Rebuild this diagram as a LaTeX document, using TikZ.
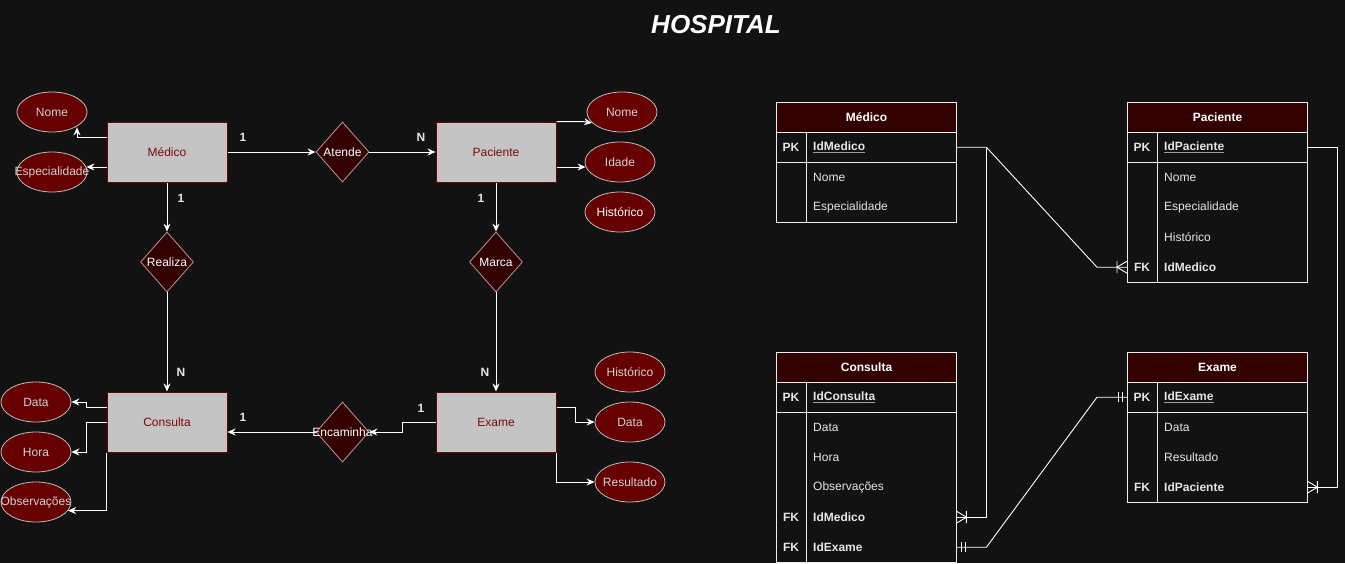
\documentclass[tikz,border=0pt]{standalone}
\usepackage{fontspec}
\setmainfont{Liberation Sans}
\usetikzlibrary{shapes.geometric,arrows.meta,calc}
\definecolor{bg}{HTML}{121212}
\definecolor{entf}{HTML}{C4C4C4}
\definecolor{entb}{HTML}{6F0000}
\definecolor{entt}{HTML}{7A0A0A}
\definecolor{attf}{HTML}{660000}
\definecolor{attb}{HTML}{BDBDBD}
\definecolor{attt}{HTML}{D2D2D2}
\definecolor{relf}{HTML}{330000}
\definecolor{relb}{HTML}{C49191}
\definecolor{hdr}{HTML}{330000}
\definecolor{tb}{HTML}{EEEEEE}
\definecolor{tt}{HTML}{E6E6E6}
\definecolor{ulc}{HTML}{A0A0A0}
\newcommand\ulg[1]{\textcolor{ulc}{\underline{\textcolor{tt}{#1}}}}
\newcommand\ermany[2]{\begin{scope}[shift={(#1)},rotate=#2]\draw[erl] (-10,-6)--(-10,6) (0,-6)--(-10,0)--(0,6);\end{scope}}
\newcommand\erone[2]{\begin{scope}[shift={(#1)},rotate=#2]\draw[erl] (-5,-5)--(-5,5) (-9,-5)--(-9,5);\end{scope}}
\begin{document}
\begin{tikzpicture}[x=1pt,y=-1pt,
  base/.style={font=\fontsize{12}{14}\selectfont},
  ent/.style={base,draw=entb,fill=entf,text=entt,minimum width=120pt,minimum height=60pt,inner sep=0pt,line width=1pt},
  attr/.style={base,ellipse,draw=attb,fill=attf,text=attt,minimum width=70pt,minimum height=40pt,inner sep=0pt,line width=0.8pt},
  rel/.style={base,diamond,draw=relb,fill=relf,text=white,minimum width=53pt,minimum height=60pt,inner sep=0pt,line width=0.8pt},
  card/.style={font=\fontsize{12}{14}\selectfont\bfseries,text=tt},
  arr/.style={draw=white,line width=1pt,-{Stealth[length=8pt,width=7pt]}},
  thead/.style={base,anchor=north west,draw=tb,fill=hdr,minimum width=180pt,minimum height=30pt,inner sep=0pt,text=white,font=\fontsize{12}{14}\selectfont\bfseries,line width=1pt},
  trow/.style={base,anchor=north west,minimum width=150pt,minimum height=30pt,text width=136pt,inner xsep=7pt,inner ysep=0pt,align=left,text=tt},
  trowb/.style={trow,font=\fontsize{12}{14}\selectfont\bfseries},
  tkey/.style={text=tt,font=\fontsize{12}{14}\selectfont\bfseries},
  tline/.style={draw=tb,line width=1pt},
  erl/.style={draw=white,line width=0.9pt}
]
\fill[bg] (0,0) rectangle (1345,563);
\useasboundingbox (0,0) rectangle (1345,563);

% title
\node[text=white,font=\fontsize{26}{30}\selectfont\bfseries\itshape] (title) at (716,25) {HOSPITAL};

% ===== ER diagram =====
\node[ent] (medico) at (167,152) {Médico};
\node[ent] (paciente) at (496,152) {Paciente};
\node[ent] (consulta) at (167,422) {Consulta};
\node[ent] (exame) at (496,422) {Exame};

\node[rel] (atende) at (342.5,152) {\makebox[0pt]{Atende}};
\node[rel] (realiza) at (167,262) {\makebox[0pt]{Realiza}};
\node[rel] (marca) at (496,262) {\makebox[0pt]{Marca}};
\node[rel] (encam) at (342.5,432) {\makebox[0pt]{Encaminha}};

\node[attr] (mNome) at (52,112) {\makebox[0pt]{Nome}};
\node[attr] (mEsp) at (52,172) {\makebox[0pt]{Especialidade}};
\node[attr] (pNome) at (622,112) {\makebox[0pt]{Nome}};
\node[attr] (pIdade) at (620,162) {\makebox[0pt]{Idade}};
\node[attr,text=white] (pHist) at (620,212) {\makebox[0pt]{Histórico}};
\node[attr] (cData) at (36,402) {\makebox[0pt]{Data}};
\node[attr] (cHora) at (36,452) {\makebox[0pt]{Hora}};
\node[attr] (cObs) at (36,502) {\makebox[0pt]{Observações}};
\node[attr] (eHist) at (630,372) {\makebox[0pt]{Histórico}};
\node[attr] (eData) at (630,422) {\makebox[0pt]{Data}};
\node[attr] (eRes) at (630,482) {\makebox[0pt]{Resultado}};

% relationship connectors
\draw[arr] (medico.east) -- (atende.west);
\draw[arr] (atende.east) -- (paciente.west);
\draw[arr] (medico.south) -- (realiza.north);
\draw[arr] (realiza.south) -- (consulta.north);
\draw[arr] (paciente.south) -- (marca.north);
\draw[arr] (marca.south) -- (exame.north);
\draw[arr] (exame.west) -- ++(-33,0) |- (encam.east);
\draw[arr] (encam.west) -- (encam.west -| consulta.east);

% attribute connectors
\draw[arr] ($(medico.west)+(0,-15)$) -| ($(mNome.south)+(25,-5)$);
\draw[arr] ($(medico.west)+(0,15)$) -- ($(mEsp.east)+(-1,-5)$);
\draw[arr] (paciente.north east) -- ++(26,0) -- (pNome.200);
\draw[arr] ($(paciente.east)+(0,15)$) -- ($(pIdade.west)+(1,5)$);
\draw[arr] ($(consulta.west)+(0,-15)$) -- ++(-20,0) |- (cData.east);
\draw[arr] (consulta.west) -- ++(-20,0) |- (cHora.east);
\draw[arr] (consulta.south west) |- (cObs.-15);
\draw[arr] ($(exame.east)+(0,-15)$) -- ++(19,0) |- (eData.west);
\draw[arr] (exame.south east) |- (eRes.west);

% cardinalities
\node[card] (c1) at (243,137) {1};
\node[card] (c2) at (421,137) {N};
\node[card] (c3) at (181,198) {1};
\node[card] (c4) at (481,198) {1};
\node[card] (c5) at (181,372) {N};
\node[card] (c6) at (485,372) {N};
\node[card] (c7) at (243,417) {1};
\node[card] (c8) at (421,408) {1};

% ===== Tables =====
% Medico
\node[thead] (medH) at (776,102) {Médico};
\node[trowb] (medPK) at (806,132) {\ulg{IdMedico}};
\node[tkey] (medPKk) at (791,147) {PK};
\node[trow] (medNome) at (806,162) {Nome};
\node[trow] (medEsp) at (806,192) {Especialidade};
\draw[tline] (medH.north west) rectangle (medEsp.south east);
\draw[tline] (medPK.south west -| medH.west) -- (medPK.south east);
\draw[tline] (medPK.north west) -- (medEsp.south west);

% Paciente
\node[thead] (pacH) at (1127,102) {Paciente};
\node[trowb] (pacPK) at (1157,132) {\ulg{IdPaciente}};
\node[tkey] (pacPKk) at (1142,147) {PK};
\node[trow] (pacNome) at (1157,162) {Nome};
\node[trow] (pacEsp) at (1157,192) {Especialidade};
\node[trow] (pacHist) at (1157,222) {Histórico};
\node[trowb] (pacFK) at (1157,252) {IdMedico};
\node[tkey] (pacFKk) at (1142,267) {FK};
\draw[tline] (pacH.north west) rectangle (pacFK.south east);
\draw[tline] (pacPK.south west -| pacH.west) -- (pacPK.south east);
\draw[tline] (pacPK.north west) -- (pacFK.south west);

% Consulta
\node[thead] (conH) at (776,352) {Consulta};
\node[trowb] (conPK) at (806,382) {\ulg{IdConsulta}};
\node[tkey] (conPKk) at (791,397) {PK};
\node[trow] (conData) at (806,412) {Data};
\node[trow] (conHora) at (806,442) {Hora};
\node[trow] (conObs) at (806,472) {Observações};
\node[trowb] (conFKm) at (806,502) {IdMedico};
\node[tkey] (conFKmk) at (791,517) {FK};
\node[trowb] (conFKe) at (806,532) {IdExame};
\node[tkey] (conFKek) at (791,547) {FK};
\draw[tline] (conH.north west) rectangle (conFKe.south east);
\draw[tline] (conPK.south west -| conH.west) -- (conPK.south east);
\draw[tline] (conPK.north west) -- (conFKe.south west);

% Exame
\node[thead] (exaH) at (1127,352) {Exame};
\node[trowb] (exaPK) at (1157,382) {\ulg{IdExame}};
\node[tkey] (exaPKk) at (1142,397) {PK};
\node[trow] (exaData) at (1157,412) {Data};
\node[trow] (exaRes) at (1157,442) {Resultado};
\node[trowb] (exaFK) at (1157,472) {IdPaciente};
\node[tkey] (exaFKk) at (1142,487) {FK};
\draw[tline] (exaH.north west) rectangle (exaFK.south east);
\draw[tline] (exaPK.south west -| exaH.west) -- (exaPK.south east);
\draw[tline] (exaPK.north west) -- (exaFK.south west);

% relational connectors
\coordinate (pacIn) at (pacFK.west -| pacH.west);
\coordinate (exaIn) at (exaPK.west -| exaH.west);
\draw[erl] (medPK.east) -- ++(30,0) coordinate (j1) -- ($(pacIn)+(-30,0)$) -- (pacIn);
\draw[erl] (j1) |- (conFKm.east);
\draw[erl] (conFKe.east) -- ++(30,0) -- ($(exaIn)+(-30,0)$) -- (exaIn);
\draw[erl] (pacPK.east) -- ++(30,0) |- (exaFK.east);
\ermany{pacIn}{0}
\ermany{conFKm.east}{180}
\ermany{exaFK.east}{180}
\erone{exaIn}{0}
\erone{conFKe.east}{180}
\end{tikzpicture}
\end{document}
